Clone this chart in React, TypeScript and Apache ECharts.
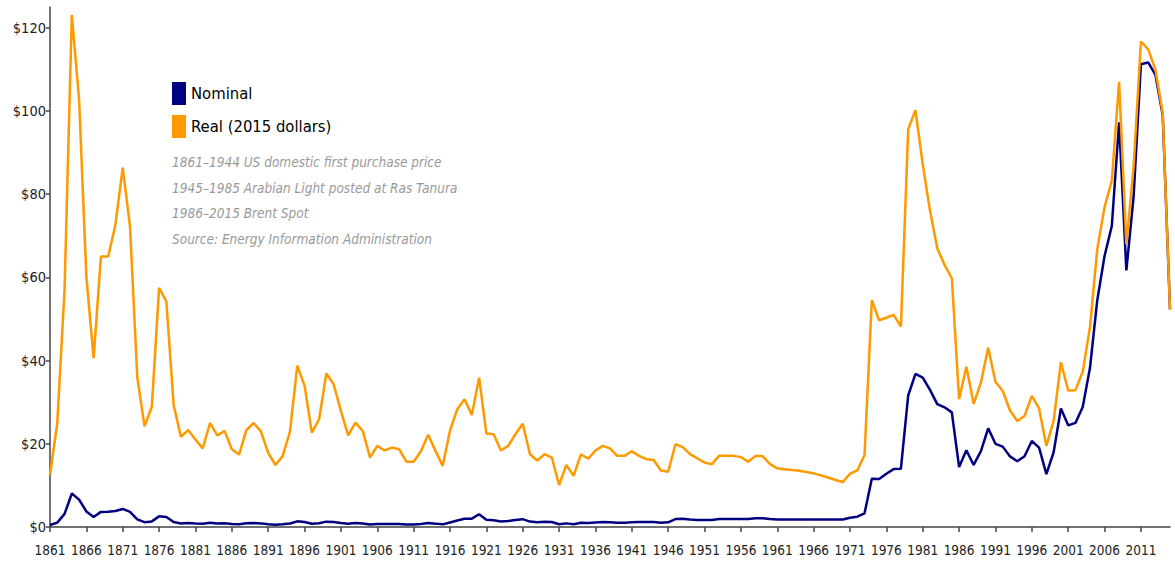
import React, { useEffect, useRef } from "react";
import * as echarts from "echarts";

const START_YEAR = 1861;
const END_YEAR = 2015;

const nominal = [
  0.49, 1.05, 3.15, 8.06, 6.59, 3.74, 2.41, 3.63, 3.64, 3.86,
  4.34, 3.64, 1.83, 1.17, 1.35, 2.56, 2.42, 1.19, 0.86, 0.95,
  0.86, 0.78, 1.0, 0.84, 0.88, 0.71, 0.67, 0.88, 0.94, 0.87,
  0.67, 0.56, 0.64, 0.84, 1.36, 1.18, 0.79, 0.91, 1.29, 1.19,
  0.96, 0.8, 0.94, 0.86, 0.62, 0.73, 0.72, 0.72, 0.7, 0.61,
  0.61, 0.74, 0.95, 0.81, 0.64, 1.1, 1.56, 1.98, 2.01, 3.07,
  1.73, 1.61, 1.34, 1.43, 1.68, 1.88, 1.3, 1.17, 1.27, 1.19,
  0.65, 0.87, 0.67, 1.0, 0.97, 1.09, 1.18, 1.13, 1.02, 1.02,
  1.14, 1.19, 1.2, 1.21, 1.05, 1.12, 1.9, 1.99, 1.78, 1.71,
  1.71, 1.71, 1.93, 1.93, 1.93, 1.93, 1.9, 2.08, 2.08, 1.9,
  1.8, 1.8, 1.8, 1.8, 1.8, 1.8, 1.8, 1.8, 1.8, 1.8,
  2.24, 2.48, 3.29, 11.58, 11.53, 12.8, 13.92, 14.02, 31.61, 36.83,
  35.93, 32.97, 29.55, 28.78, 27.56, 14.43, 18.44, 14.92, 18.23, 23.73,
  20.0, 19.32, 16.97, 15.82, 17.02, 20.67, 19.09, 12.72, 17.97, 28.5,
  24.44, 25.02, 28.83, 38.27, 54.52, 65.14, 72.39, 97.26, 61.67, 79.5,
  111.26, 111.67, 108.66, 98.95, 52.39,
];

const real = [
  12.5, 25.0, 57.0, 123.1, 102.7, 60.2, 40.6, 65.0, 65.0, 72.7,
  86.4, 72.3, 36.0, 24.2, 28.9, 57.5, 54.2, 29.3, 21.7, 23.3,
  21.0, 18.9, 25.0, 22.0, 23.1, 18.7, 17.4, 23.3, 25.0, 23.0,
  17.8, 14.9, 17.1, 23.0, 38.8, 34.0, 22.7, 25.9, 36.9, 34.3,
  27.9, 22.0, 25.1, 23.1, 16.7, 19.5, 18.4, 19.1, 18.7, 15.7,
  15.7, 18.2, 22.2, 18.3, 14.7, 23.2, 28.3, 30.7, 26.9, 35.9,
  22.5, 22.3, 18.4, 19.5, 22.3, 24.8, 17.5, 16.0, 17.5, 16.7,
  10.1, 14.9, 12.3, 17.5, 16.4, 18.4, 19.5, 18.9, 17.1, 17.1,
  18.2, 17.1, 16.3, 16.1, 13.6, 13.3, 19.9, 19.2, 17.5, 16.5,
  15.5, 15.1, 17.1, 17.1, 17.1, 16.8, 15.7, 17.1, 17.0, 15.1,
  14.1, 13.9, 13.7, 13.5, 13.2, 12.9, 12.4, 11.9, 11.3, 10.8,
  12.8, 13.6, 17.3, 54.5, 49.7, 50.3, 51.0, 48.2, 95.6, 100.2,
  87.2, 76.0, 67.0, 63.0, 59.8, 30.7, 38.5, 29.6, 34.7, 43.1,
  34.9, 32.7, 28.0, 25.5, 26.7, 31.5, 28.5, 19.5, 25.5, 39.6,
  32.8, 32.9, 37.3, 48.1, 66.8, 76.9, 83.3, 107.0, 68.0, 86.7,
  116.7, 114.8, 109.9, 99.5, 52.2,
];

const years: string[] = [];
for (let y = START_YEAR; y <= END_YEAR; y++) years.push(String(y));

const yTicks = [0, 20, 40, 60, 80, 100, 120];

const seriesNames = ["Nominal", "Real (2015 dollars)"];

const notes = [
  "1861\u20131944 US domestic first purchase price",
  "1945\u20131985 Arabian Light posted at Ras Tanura",
  "1986\u20132015 Brent Spot",
  "Source: Energy Information Administration",
];

const FONT = "'Liberation Sans Narrow', 'DejaVu Sans Condensed', 'Liberation Sans', sans-serif";

export default function App() {
  const ref = useRef<HTMLDivElement>(null);

  useEffect(() => {
    if (!ref.current) return;
    const chart = echarts.init(ref.current, undefined, { renderer: "svg" });
    chart.setOption({
      animation: false,
      backgroundColor: "#ffffff",
      textStyle: { fontFamily: FONT },
      grid: { left: 50, right: 5, top: 7, bottom: 40, containLabel: false },
      legend: {
        orient: "vertical",
        left: 172,
        top: 82,
        padding: 0,
        icon: "rect",
        itemWidth: 14,
        itemHeight: 23,
        itemGap: 10,
        selectedMode: false,
        textStyle: { fontFamily: FONT, fontSize: 16.5, color: "#000000" },
        data: seriesNames,
      },
      xAxis: {
        type: "category",
        data: years,
        boundaryGap: false,
        axisLine: { lineStyle: { color: "#444444", width: 1.5 } },
        axisTick: { show: true, interval: 4, length: 5, lineStyle: { color: "#444444", width: 1.5 } },
        axisLabel: {
          interval: 4,
          hideOverlap: false,
          fontFamily: FONT,
          fontSize: 13.5,
          color: "#222222",
          margin: 16,
        },
        splitLine: { show: false },
      },
      yAxis: {
        type: "value",
        min: 0,
        max: 125,
        axisLine: { show: true, lineStyle: { color: "#444444", width: 1.5 } },
        axisTick: { show: true, length: 4, customValues: yTicks, lineStyle: { color: "#444444", width: 1.5 } },
        axisLabel: {
          customValues: yTicks,
          formatter: (v: number) => "$" + v,
          fontFamily: FONT,
          fontSize: 14.5,
          color: "#222222",
          margin: 4,
        },
        splitLine: { show: false },
      },
      series: [
        {
          name: seriesNames[0],
          type: "line",
          data: nominal,
          showSymbol: false,
          symbol: "none",
          color: "#000080",
          lineStyle: { color: "#000080", width: 2.5 },
        },
        {
          name: seriesNames[1],
          type: "line",
          data: real,
          showSymbol: false,
          symbol: "none",
          color: "#FF9900",
          lineStyle: { color: "#FF9900", width: 2.5 },
        },
      ],
      graphic: notes.map((t, i) => ({
        type: "text",
        left: 172,
        top: 155 + i * 25.5,
        style: {
          text: t,
          fontFamily: FONT,
          fontSize: 13.5,
          fontStyle: "italic",
          fill: "#999999",
        },
      })),
    });
    return () => chart.dispose();
  }, []);

  return (
    <div
      ref={ref}
      style={{ position: "absolute", left: 0, top: 0, width: 1175, height: 567 }}
    />
  );
}
